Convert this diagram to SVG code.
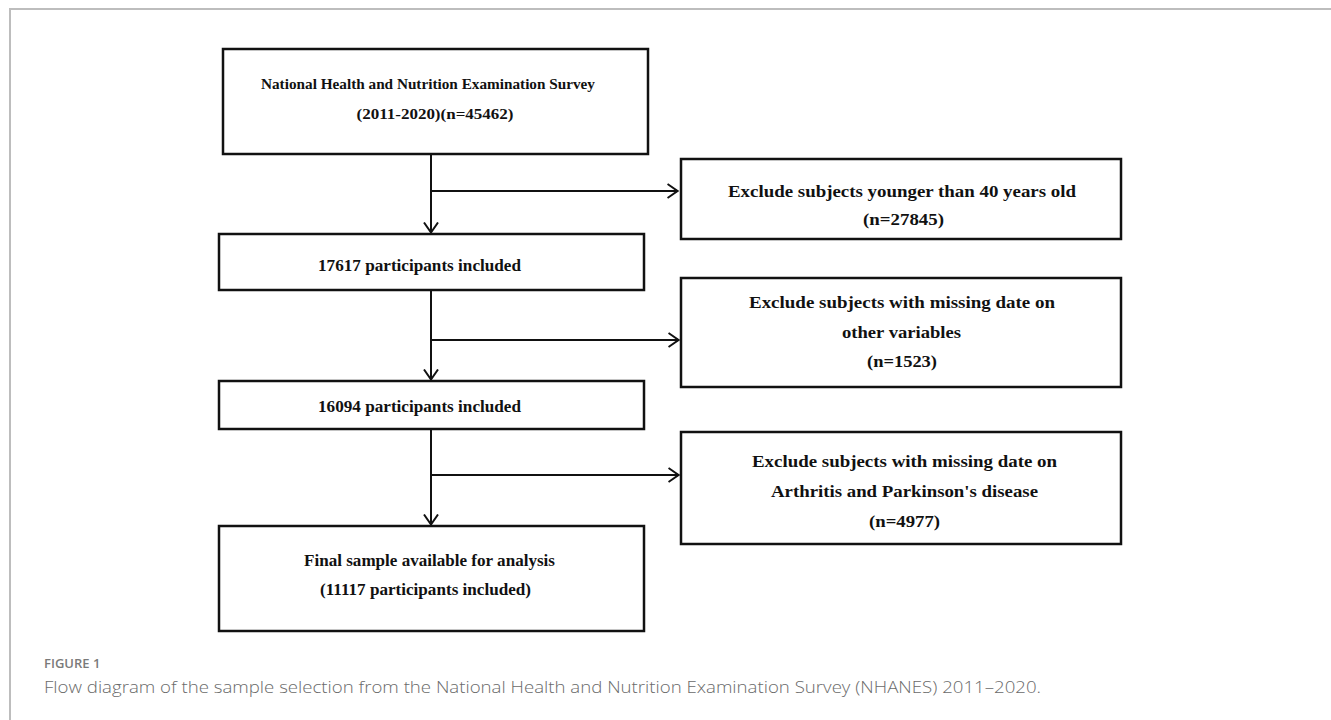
<svg xmlns="http://www.w3.org/2000/svg" width="1331" height="720" viewBox="0 0 1331 720">
<style>
.box{fill:#fff;stroke:#111;stroke-width:2.5}
.t{font-family:"Liberation Serif","Times New Roman",serif;font-weight:bold;fill:#111;text-anchor:middle}
.edge{fill:none;stroke:#111;stroke-width:2}
.frame{fill:none;stroke:#bdbdbd;stroke-width:2}
.figlabel{font-family:"Open Sans","Noto Sans",sans-serif;font-weight:600;font-size:13px;fill:#7a7a7a}
.caption{font-family:"Open Sans","Noto Sans",sans-serif;font-weight:300;font-size:16px;fill:#6a6a6a}
</style>
<defs>
<marker id="arr" viewBox="0 0 12 16" refX="11.5" refY="8" markerWidth="12" markerHeight="16" markerUnits="userSpaceOnUse" orient="auto">
<path d="M1,1 L11,8 L1,15" fill="none" stroke="#111" stroke-width="2"/>
</marker>
</defs>
<rect width="1331" height="720" fill="#fff"/>
<path class="frame" d="M10,720 L10,9 L1331,9"/>

<g id="connectors">
<line class="edge" x1="431" y1="155" x2="431" y2="233" marker-end="url(#arr)"/>
<line class="edge" x1="431" y1="191" x2="678" y2="191" marker-end="url(#arr)"/>
<line class="edge" x1="431" y1="291" x2="431" y2="380" marker-end="url(#arr)"/>
<line class="edge" x1="431" y1="340" x2="679" y2="340" marker-end="url(#arr)"/>
<line class="edge" x1="431" y1="430" x2="431" y2="525" marker-end="url(#arr)"/>
<line class="edge" x1="431" y1="475" x2="679" y2="475" marker-end="url(#arr)"/>
</g>

<g id="node-nhanes">
<rect class="box" x="223" y="49" width="425" height="105"/>
<text class="t" x="428" y="89" font-size="15" textLength="334" lengthAdjust="spacingAndGlyphs">National Health and Nutrition Examination Survey</text>
<text class="t" x="435" y="119" font-size="15" textLength="157" lengthAdjust="spacingAndGlyphs">(2011-2020)(n=45462)</text>
</g>

<g id="node-17617">
<rect class="box" x="219" y="234" width="425" height="56"/>
<text class="t" x="419.5" y="271" font-size="17" textLength="203" lengthAdjust="spacingAndGlyphs">17617 participants included</text>
</g>

<g id="node-16094">
<rect class="box" x="219" y="381" width="425" height="48"/>
<text class="t" x="419.5" y="412" font-size="17" textLength="203" lengthAdjust="spacingAndGlyphs">16094 participants included</text>
</g>

<g id="node-final">
<rect class="box" x="219" y="526" width="425" height="105"/>
<text class="t" x="429.5" y="566" font-size="17" textLength="251" lengthAdjust="spacingAndGlyphs">Final sample available for analysis</text>
<text class="t" x="425.5" y="595" font-size="17" textLength="211" lengthAdjust="spacingAndGlyphs">(11117 participants included)</text>
</g>

<g id="node-excl-age">
<rect class="box" x="681" y="159" width="440" height="80"/>
<text class="t" x="902" y="197" font-size="17" textLength="348" lengthAdjust="spacingAndGlyphs">Exclude subjects younger than 40 years old</text>
<text class="t" x="903.5" y="225" font-size="17" textLength="81" lengthAdjust="spacingAndGlyphs">(n=27845)</text>
</g>

<g id="node-excl-vars">
<rect class="box" x="681" y="278" width="440" height="109"/>
<text class="t" x="902" y="308" font-size="17" textLength="306" lengthAdjust="spacingAndGlyphs">Exclude subjects with missing date on</text>
<text class="t" x="901.5" y="338" font-size="17" textLength="119" lengthAdjust="spacingAndGlyphs">other variables</text>
<text class="t" x="902" y="367" font-size="17" textLength="70" lengthAdjust="spacingAndGlyphs">(n=1523)</text>
</g>

<g id="node-excl-disease">
<rect class="box" x="681" y="432" width="440" height="112"/>
<text class="t" x="904.5" y="467" font-size="17" textLength="305" lengthAdjust="spacingAndGlyphs">Exclude subjects with missing date on</text>
<text class="t" x="904.5" y="497" font-size="17" textLength="267" lengthAdjust="spacingAndGlyphs">Arthritis and Parkinson's disease</text>
<text class="t" x="904.5" y="527" font-size="17" textLength="71" lengthAdjust="spacingAndGlyphs">(n=4977)</text>
</g>

<text class="figlabel" x="44" y="668">FIGURE 1</text>
<text class="caption" x="44" y="693" textLength="997" lengthAdjust="spacingAndGlyphs">Flow diagram of the sample selection from the National Health and Nutrition Examination Survey (NHANES) 2011–2020.</text>
</svg>
